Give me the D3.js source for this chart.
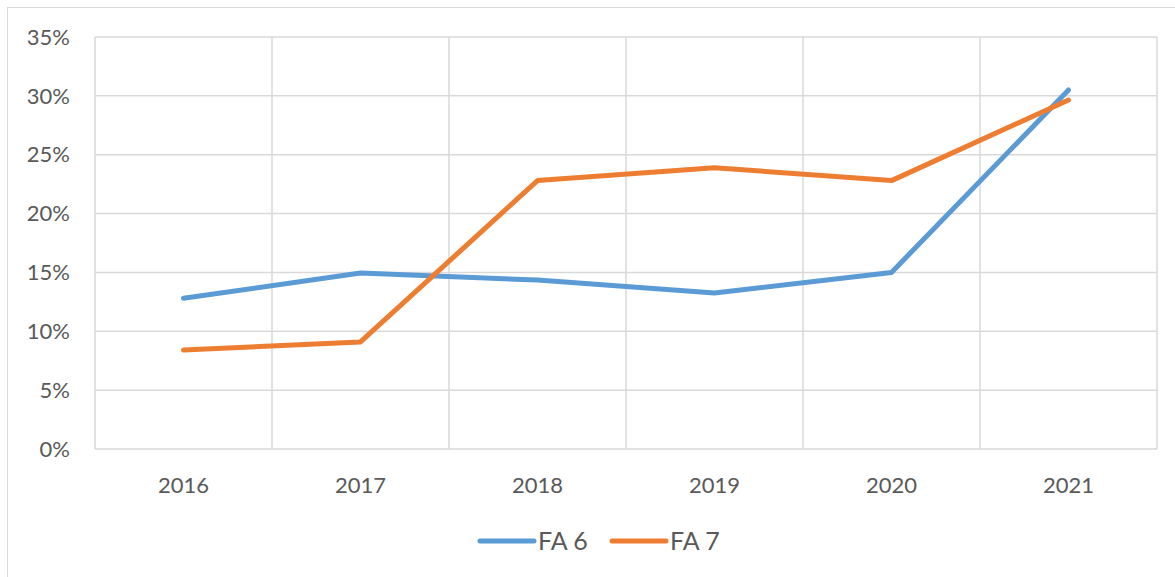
<!DOCTYPE html>
<html><head><meta charset="utf-8">
<script src="https://cdn.jsdelivr.net/npm/d3@7"></script>
<style>body{margin:0;background:#fff}svg{display:block}text{font-family:Lato,"Open Sans",sans-serif;fill:#595959}</style>
</head><body><svg id="c" width="1175" height="577"></svg>
<script>
const categories = ["2016","2017","2018","2019","2020","2021"];
const seriesNames = ["FA 6","FA 7"];
const fa6 = [0.128, 0.1495, 0.1435, 0.1325, 0.150, 0.305];
const fa7 = [0.084, 0.091, 0.228, 0.239, 0.228, 0.2965];
const yTicks = [0,0.05,0.10,0.15,0.20,0.25,0.30,0.35];
const colors = ["#5B9BD5","#ED7D31"];

const svg = d3.select("#c");
svg.append("rect").attr("x",7.5).attr("y",7.5).attr("width",1180).attr("height",600)
  .attr("fill","#fff").attr("stroke","#d9d9d9");
const L=95,R=1157,T=37,B=449;
const x = d3.scaleBand().domain(categories).range([L,R]);
const y = d3.scaleLinear().domain([0,0.35]).range([B,T]);
const g = svg.append("g");
g.selectAll(".h").data(yTicks).join("line")
  .attr("x1",L).attr("x2",R).attr("y1",d=>y(d)).attr("y2",d=>y(d))
  .attr("stroke","#d9d9d9").attr("stroke-width",1.5);
const vx = categories.map(c=>x(c)).concat([R]);
g.selectAll(".v").data(vx).join("line")
  .attr("x1",d=>d).attr("x2",d=>d).attr("y1",T).attr("y2",B)
  .attr("stroke","#d9d9d9").attr("stroke-width",1.5);
g.selectAll(".yl").data(yTicks).join("text")
  .attr("x",70).attr("y",d=>y(d)).attr("dy","0.35em").attr("text-anchor","end")
  .attr("font-size",22).text(d=>d3.format(".0%")(d));
g.selectAll(".xl").data(categories).join("text")
  .attr("x",d=>x(d)+x.bandwidth()/2).attr("y",493).attr("text-anchor","middle")
  .attr("font-size",22).text(d=>d);
const line = d3.line().x((d,i)=>x(categories[i])+x.bandwidth()/2).y(d=>y(d));
[fa6,fa7].forEach((s,i)=>{
  svg.append("path").attr("d",line(s)).attr("fill","none").attr("stroke",colors[i])
    .attr("stroke-width",5).attr("stroke-linecap","round").attr("stroke-linejoin","round");
});
const lx=[480,612];
seriesNames.forEach((n,i)=>{
  svg.append("line").attr("x1",lx[i]).attr("x2",lx[i]+54).attr("y1",541).attr("y2",541)
    .attr("stroke",colors[i]).attr("stroke-width",5).attr("stroke-linecap","round");
  svg.append("text").attr("x",lx[i]+58).attr("y",541).attr("dy","0.35em")
    .attr("font-size",25).text(n);
});
</script></body></html>
